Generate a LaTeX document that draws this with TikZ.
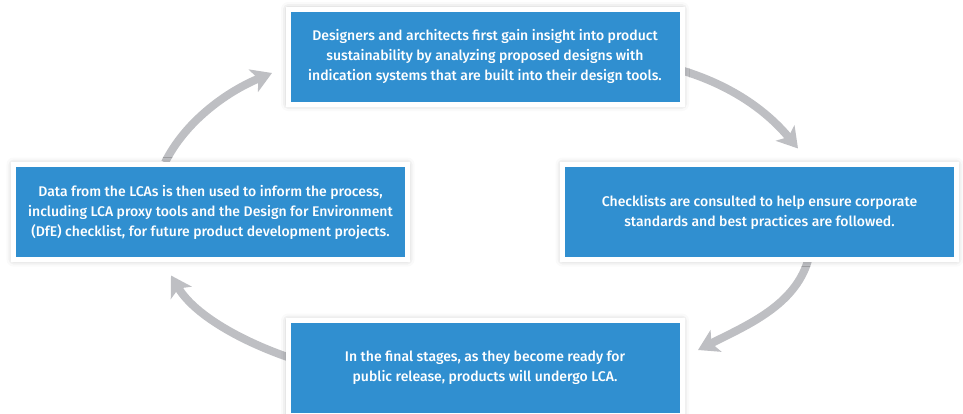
\documentclass[tikz,border=0pt]{standalone}
\usepackage{fontspec}
\setmainfont{Fira Sans}[BoldFont={Fira Sans Medium}]
\usepackage{tikz}
\usetikzlibrary{arrows.meta}
\usetikzlibrary{calc}
\usetikzlibrary{backgrounds}
\usetikzlibrary{shadows.blur}
\definecolor{stageblue}{RGB}{48,143,208}
\definecolor{loopgray}{RGB}{190,191,195}

\begin{document}
\begin{tikzpicture}[x=1pt,y=-1pt,
		stage/.style={fill=stageblue,draw=white,line width=5pt,
			minimum width=394pt,minimum height=95pt,inner sep=0pt,
			text=white,align=center,
			font=\fontsize{14}{20}\selectfont\bfseries,
			blur shadow={shadow xshift=0pt,shadow yshift=0pt,
				shadow blur radius=7pt,shadow opacity=30}},
		loop/.style={draw=loopgray,line width=8pt,
			-{Stealth[length=20pt,width=24pt,inset=5pt]}}]
	\useasboundingbox (0,0) rectangle (963,413);
	% the four stages
	\node[stage] (top) at (485,56.5) {Designers and architects first gain insight into product\\
		sustainability by analyzing proposed designs with\\
		indication systems that are built into their design tools.};
	\node[stage] (right) at (759.5,212) {Checklists are consulted to help ensure corporate\\
		standards and best practices are followed.};
	\node[stage] (bottom) at (485,368) {In the final stages, as they become ready for\\
		public release, products will undergo LCA.};
	\node[stage] (left) at (210.5,212) {Data from the LCAs is then used to inform the process,\\
		including LCA proxy tools and the Design for Environment\\
		(DfE) checklist, for future product development projects.};
	% ends of the arrows
	\coordinate (t1) at ($(top.east)+(-4,13.5)$);
	\coordinate (h1) at ($(right.north)+(38.5,-13.5)$);
	\coordinate (t2) at ($(right.south)+(48.5,-1.5)$);
	\coordinate (h2) at ($(bottom.east)+(13.5,-18)$);
	\coordinate (t3) at ($(bottom.west)+(2,-11)$);
	\coordinate (h3) at ($(left.south)+(-39.5,13.5)$);
	\coordinate (t4) at ($(left.north)+(-45.5,0.5)$);
	\coordinate (h4) at ($(top.west)+(-13.5,16.5)$);
	\begin{scope}[on background layer]
		\draw[loop] (t1) .. controls +(50,15) and +(-32,-38.5) .. (h1);
		\draw[loop] (t2) .. controls +(-13.5,45) and +(49.5,-25) .. (h2);
		\draw[loop] (t3) .. controls +(-50,-17.5) and +(22.5,38) .. (h3);
		\draw[loop] (t4) .. controls +(20,-40.5) and +(-46,19) .. (h4);
	\end{scope}
\end{tikzpicture}
\end{document}
